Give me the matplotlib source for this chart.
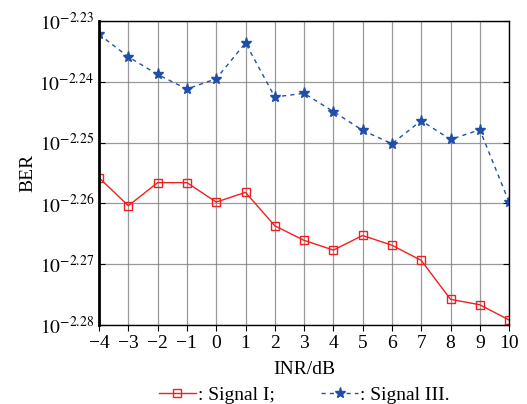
import numpy as np
import matplotlib.pyplot as plt
from matplotlib.ticker import NullLocator

plt.rcParams['font.family'] = 'serif'
plt.rcParams['font.serif'] = ['Liberation Serif', 'DejaVu Serif']
plt.rcParams['mathtext.fontset'] = 'stix'

inr = [-4, -3, -2, -1, 0, 1, 2, 3, 4, 5, 6, 7, 8, 9, 10]
# BER exponents (log10 of BER)
sig1_exp = [-2.2558, -2.2604, -2.2566, -2.2566, -2.2598, -2.2582, -2.2637, -2.2661,
            -2.2677, -2.2653, -2.2669, -2.2694, -2.2758, -2.2767, -2.2792]
sig3_exp = [-2.2322, -2.2359, -2.2388, -2.2412, -2.2395, -2.2336, -2.2425, -2.2419,
            -2.2449, -2.2480, -2.2502, -2.2464, -2.2495, -2.2479, -2.2598]
ytick_exp = [-2.28, -2.27, -2.26, -2.25, -2.24, -2.23]

sig1 = 10 ** np.array(sig1_exp)
sig3 = 10 ** np.array(sig3_exp)

fig = plt.figure(figsize=(5.27, 4.04), dpi=100)
ax = fig.add_axes([0.188, 0.196, 0.778, 0.752])

ax.plot(inr, sig1, '-', color='#f02020', lw=1.0, marker='s', ms=6,
        mfc='none', mec='#f02020', mew=1.0, label=': Signal I;')
ax.plot(inr, sig3, '--', color='#1f4fa8', lw=1.0, marker='*', ms=8,
        mfc='#1f4fa8', mec='#1f4fa8', dashes=(3, 3), label=': Signal III.')

ax.set_yscale('log')
ax.set_ylim(10 ** -2.28, 10 ** -2.23)
ax.set_xlim(-4, 10)
ax.set_xticks(inr)
ax.set_xticklabels([str(v).replace('-', '\u2212') for v in inr])
ax.set_yticks([10 ** e for e in ytick_exp])
ax.set_yticklabels([r'$10^{%.2f}$' % e for e in ytick_exp])
ax.yaxis.set_minor_locator(NullLocator())

ax.grid(True, color='#808080', lw=0.9, alpha=0.8)
ax.tick_params(axis='both', labelsize=14, length=4, width=0.8, top=False, right=True)
ax.tick_params(axis='y', direction='in')
ax.tick_params(axis='x', direction='out')
ax.spines['left'].set_linewidth(2.0)
for s in ['top', 'right', 'bottom']:
    ax.spines[s].set_linewidth(1.0)

ax.set_xlabel('INR/dB', fontsize=14, labelpad=6)
ax.set_ylabel('BER', fontsize=14, labelpad=2)

ax.legend(loc='upper center', bbox_to_anchor=(0.5, -0.178), ncol=2, frameon=False,
          fontsize=14, handlelength=1.9, handletextpad=0.1, columnspacing=2.4,
          borderaxespad=0)

fig.savefig('out.png', dpi=100)
